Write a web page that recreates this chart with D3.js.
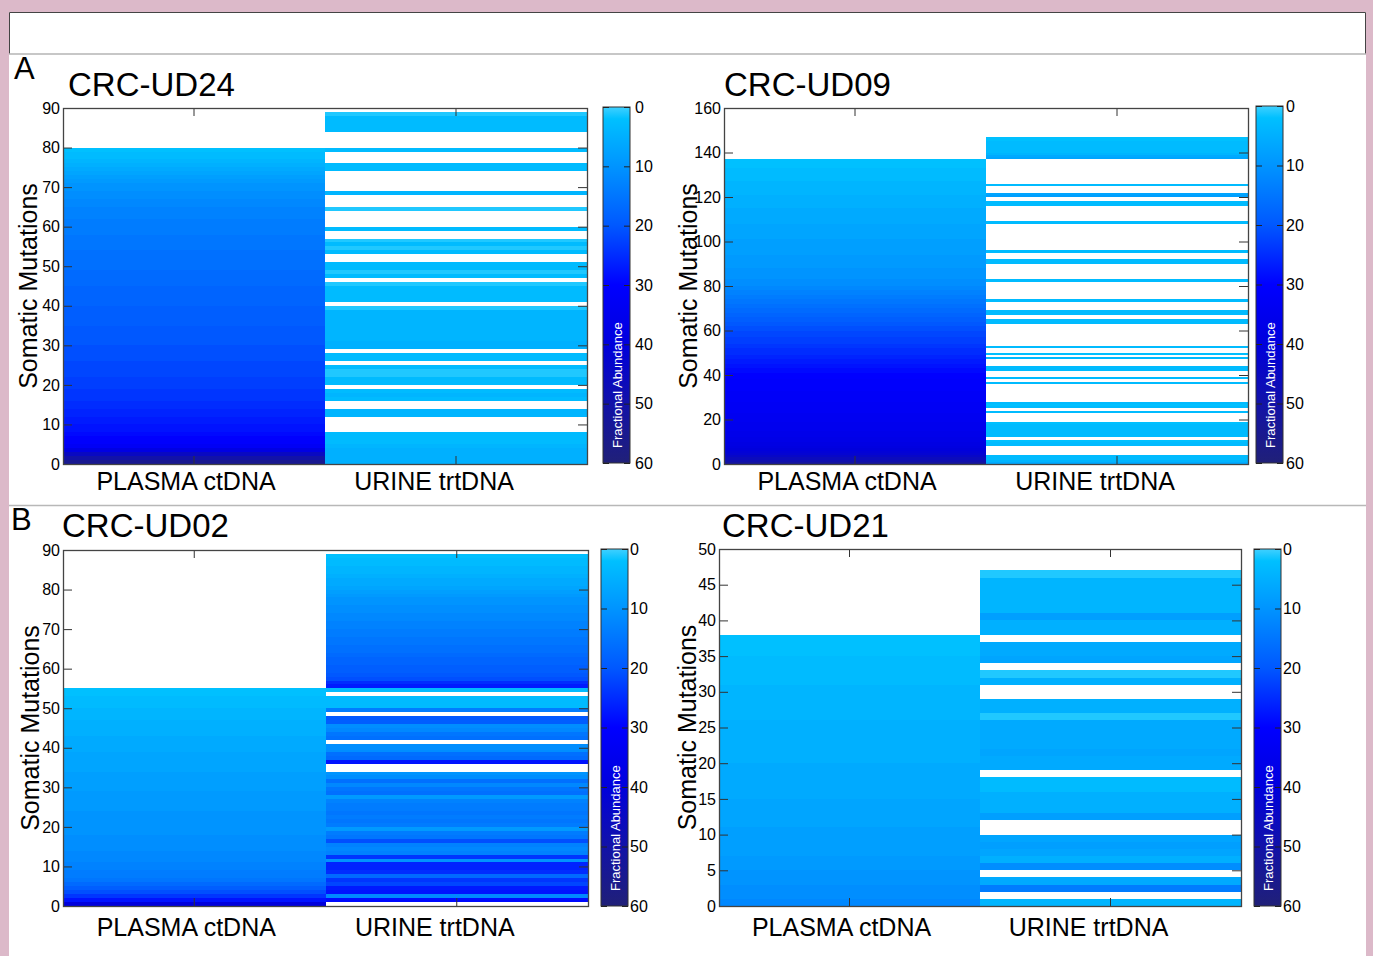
<!DOCTYPE html>
<html>
<head>
<meta charset="utf-8">
<script src="https://cdn.jsdelivr.net/npm/d3@7"></script>
<style>
  body { margin: 0; background: #fff; }
  svg { display: block; }
  text { font-family: "Liberation Sans", Arial, sans-serif; }
</style>
</head>
<body>
<svg id="chart" width="1373" height="956"></svg>
<script>
// columns and colour bar ticks shared by all four panels
const columns = ["PLASMA ctDNA", "URINE trtDNA"];
const colorTicks = [0, 10, 20, 30, 40, 50, 60];
const colorStops = [0, 2, 10, 20, 30, 40, 50, 60];
const colorRange = ["#40d0ff", "#00c0ff", "#0094ff", "#0058ff", "#0000ff", "#0000dc", "#1212a8", "#202078"];

// fractional abundance per mutation, index 0 = bottom row, null = not detected
const ud24Ticks = [0, 10, 20, 30, 40, 50, 60, 70, 80, 90];
const ud24Plasma = [
  55, 50, 45, 38, 33, 31, 30, 29, 28, 28,
  27, 27, 26, 26, 25, 25, 24, 24, 24, 23,
  23, 23, 22, 22, 22, 22, 21, 21, 21, 21,
  20, 20, 20, 20, 20, 19, 19, 19, 19, 19,
  18, 18, 18, 18, 18, 17, 17, 17, 17, 16,
  16, 16, 16, 16, 15, 15, 15, 15, 14, 14,
  14, 14, 13, 13, 13, 12, 12, 11, 11, 10,
  10, 9, 8, 7, 6, 5, 4, 3, 3, 2
];
const ud24Urine = [
  5, 5, 5, 5, 4, 3, 3, 3, null, null,
  null, null, 4, 4, null, null, 3, 4, 3, null,
  3, 3, 1, 1, 3, null, 3, 3, null, 5,
  5, 4, 4, 4, 4, 4, 4, 4, 4, 1,
  null, 3, 3, 3, 3, 1, null, 3, 1, 3,
  3, null, null, 3, 1, 3, 1, null, null, 3,
  null, null, null, null, 1, null, null, null, 4, null,
  null, null, null, null, 3, 3, null, null, null, 3,
  null, null, null, null, 3, 3, 3, 3, 1
];

const ud09Ticks = [0, 20, 40, 60, 80, 100, 120, 140, 160];
const ud09Plasma = [
  52, 49, 46, 44, 42, 41, 40, 39, 38, 38,
  37, 37, 36, 36, 36, 35, 35, 35, 35, 34,
  34, 34, 34, 33, 33, 33, 33, 33, 32, 32,
  32, 32, 32, 31, 31, 31, 31, 31, 30, 30,
  30, 29, 29, 28, 28, 27, 27, 26, 26, 25,
  25, 25, 24, 24, 23, 23, 23, 22, 22, 22,
  21, 21, 20, 20, 19, 19, 18, 18, 17, 17,
  16, 16, 15, 15, 14, 14, 13, 13, 12, 12,
  11, 11, 11, 10, 10, 10, 10, 10, 9, 9,
  9, 9, 9, 9, 8, 8, 8, 8, 8, 8,
  8, 7, 7, 7, 7, 7, 7, 7, 6, 6,
  6, 6, 6, 6, 6, 5, 5, 5, 5, 5,
  5, 4, 4, 4, 4, 4, 4, 3, 3, 3,
  3, 3, 3, 2, 2, 2, 2
];
const ud09Urine = [
  6, 4, 3, 3, null, null, null, null, 3, 3,
  2, null, 3, 3, 3, 3, 3, 3, 2, null,
  null, null, null, 3, null, 3, 2, 3, null, null,
  null, null, null, null, null, null, 3, null, 3, null,
  null, null, 3, 3, null, null, null, 3, null, 2,
  null, null, 3, null, null, null, null, null, null, null,
  null, null, null, 3, 3, null, null, 3, 3, null,
  null, null, null, 3, null, null, null, null, null, null,
  null, null, 3, null, null, null, null, null, null, null,
  3, 3, null, null, null, 3, null, null, null, null,
  null, null, null, null, null, null, null, null, 3, null,
  null, null, null, null, null, null, 3, 3, null, null,
  8, 7, null, null, null, 3, null, null, null, null,
  null, null, null, null, null, null, null, 7, 6, 4,
  3, 3, 3, 3, 3, 2, 2
];

const ud02Ticks = [0, 10, 20, 30, 40, 50, 60, 70, 80, 90];
const ud02Plasma = [
  40, 28, 24, 21, 19, 17, 15, 14, 14, 13,
  13, 12, 12, 12, 11, 11, 11, 11, 10, 10,
  10, 10, 10, 10, 9, 9, 9, 9, 9, 8,
  8, 8, 8, 8, 7, 7, 7, 7, 7, 6,
  6, 6, 6, 5, 5, 5, 5, 4, 4, 4,
  3, 3, 3, 2, 2
];
const ud02Urine = [
  null, 29, 12, 28, 27, 22, 24, 17, 25, 26,
  26, 10, 24, 13, 12, 13, 21, 15, 14, 9,
  14, 15, 14, 15, 14, 14, 13, 9, 16, 15,
  12, 16, 11, 10, null, null, 28, 17, 16, 11,
  11, null, 16, 15, 12, 11, 19, 20, null, 14,
  3, 3, 3, null, 3, 27, 25, 21, 20, 19,
  19, 18, 18, 17, 16, 16, 15, 15, 14, 14,
  13, 13, 12, 12, 11, 11, 10, 10, 9, 8,
  7, 6, 6, 5, 4, 4, 3, 3, 2
];

const ud21Ticks = [0, 5, 10, 15, 20, 25, 30, 35, 40, 45, 50];
const ud21Plasma = [
  12, 11, 11, 10, 10, 9, 9, 8, 8, 8,
  8, 7, 7, 7, 7, 6, 6, 6, 6, 6,
  5, 5, 5, 5, 5, 5, 4, 4, 4, 4,
  4, 3, 3, 3, 3, 2, 2, 2
];
const ud21Urine = [
  4, null, 14, 6, null, 11, 5, 7, 8, 7,
  null, null, 8, 5, 5, 5, 3, 3, null, 6,
  6, 7, 6, 6, 6, 6, 1, 5, 5, null,
  null, 5, 1, null, 7, 6, 6, null, 5, 5,
  8, 4, 4, 4, 4, 4, 1
];

const panels = [
  { title: "CRC-UD24", ticks: ud24Ticks, plasma: ud24Plasma, urine: ud24Urine },
  { title: "CRC-UD09", ticks: ud09Ticks, plasma: ud09Plasma, urine: ud09Urine },
  { title: "CRC-UD02", ticks: ud02Ticks, plasma: ud02Plasma, urine: ud02Urine },
  { title: "CRC-UD21", ticks: ud21Ticks, plasma: ud21Plasma, urine: ud21Urine }
];

// where each panel sits on the page
const layout = [
  { left: 63, right: 587, top: 108, bottom: 464, cbLeft: 603, cbTop: 107, cbBottom: 463, cbPad: 5, titleX: 68, titleY: 96, ylabX: 37, xlabPad: 8 },
  { left: 724, right: 1248, top: 108, bottom: 464, cbLeft: 1256, cbTop: 106, cbBottom: 463, cbPad: 3, titleX: 724, titleY: 96, ylabX: 697, xlabPad: 8 },
  { left: 63, right: 588, top: 550, bottom: 906, cbLeft: 601, cbTop: 549, cbBottom: 906, cbPad: 2, titleX: 62, titleY: 537, ylabX: 39, xlabPad: 12 },
  { left: 719, right: 1241, top: 549, bottom: 906, cbLeft: 1254, cbTop: 549, cbBottom: 906, cbPad: 2, titleX: 722, titleY: 537, ylabX: 696, xlabPad: 12 }
];
const cbWidth = 27;
const labelShift = [-8, -22];

const svg = d3.select("#chart");
const color = d3.scaleLinear().domain(colorStops).range(colorRange).clamp(true);

// colour bar gradient
const grad = svg.append("defs").append("linearGradient")
  .attr("id", "cbgrad").attr("x1", 0).attr("y1", 0).attr("x2", 0).attr("y2", 1);
grad.selectAll("stop").data(colorStops).join("stop")
  .attr("offset", d => d / 60)
  .attr("stop-color", d => color(d));

// page frame
svg.append("rect").attr("width", 1373).attr("height", 956).attr("fill", "#dcb9c9");
svg.append("rect").attr("x", 9).attr("y", 12).attr("width", 1357).attr("height", 950).attr("fill", "#fff");
svg.append("path").attr("d", "M9.5,54 V12.5 H1365.5 V54").attr("fill", "none").attr("stroke", "#444");
svg.append("line").attr("x1", 9).attr("x2", 1366).attr("y1", 54).attr("y2", 54).attr("stroke", "#b4b4b4").attr("stroke-width", 1.5);
svg.append("line").attr("x1", 9).attr("x2", 1366).attr("y1", 505.5).attr("y2", 505.5).attr("stroke", "#b8b8b8").attr("stroke-width", 1.5);

svg.append("text").attr("x", 14).attr("y", 79).attr("font-size", 31).text("A");
svg.append("text").attr("x", 11).attr("y", 530).attr("font-size", 31).text("B");

panels.forEach((p, k) => drawPanel(p, layout[k]));

function drawPanel(p, L) {
  const g = svg.append("g");
  const y = d3.scaleLinear().domain([0, d3.max(p.ticks)]).range([L.bottom, L.top]);
  const x = d3.scaleBand().domain(columns).range([L.left, L.right]);
  const series = [p.plasma, p.urine];

  // heatmap cells
  columns.forEach((col, c) => {
    const cells = series[c].map((v, i) => ({ v, i })).filter(d => d.v !== null);
    g.append("g").selectAll("rect").data(cells).join("rect")
      .attr("x", x(col))
      .attr("width", x.bandwidth())
      .attr("y", d => y(d.i + 1))
      .attr("height", d => y(d.i) - y(d.i + 1))
      .attr("fill", d => color(d.v))
      .attr("shape-rendering", "crispEdges");
  });

  // axes, ticks pointing inwards
  const yl = g.append("g").attr("transform", `translate(${L.left},0)`)
    .call(d3.axisLeft(y).tickValues(p.ticks).tickSize(-9).tickPadding(3));
  const yr = g.append("g").attr("transform", `translate(${L.right},0)`)
    .call(d3.axisRight(y).tickValues(p.ticks).tickSize(-9).tickFormat(""));
  const xt = g.append("g").attr("transform", `translate(0,${L.top})`)
    .call(d3.axisTop(x).tickSize(-8).tickFormat(""));
  const xb = g.append("g").attr("transform", `translate(0,${L.bottom})`)
    .call(d3.axisBottom(x).tickSize(-8).tickPadding(L.xlabPad));
  [yl, yr, xt, xb].forEach(a => {
    a.select(".domain").remove();
    a.selectAll("line").attr("stroke", "#333");
    a.attr("font-family", null);
  });
  yl.selectAll("text").attr("font-size", 16).attr("fill", "#000");
  xb.selectAll("text").attr("font-size", 25).attr("fill", "#000")
    .attr("dx", (d, i) => labelShift[i]);

  g.append("rect")
    .attr("x", L.left + 0.5).attr("y", L.top + 0.5)
    .attr("width", L.right - L.left).attr("height", L.bottom - L.top)
    .attr("fill", "none").attr("stroke", "#444").attr("stroke-width", 1.3);

  // titles
  g.append("text").attr("x", L.titleX).attr("y", L.titleY)
    .attr("font-size", 33).text(p.title);
  g.append("text")
    .attr("transform", `translate(${L.ylabX},${(L.top + L.bottom) / 2}) rotate(-90)`)
    .attr("text-anchor", "middle").attr("font-size", 25)
    .text("Somatic Mutations");

  // colour bar
  const cy = d3.scaleLinear().domain([0, 60]).range([L.cbTop, L.cbBottom]);
  const cbRight = L.cbLeft + cbWidth;
  g.append("rect")
    .attr("x", L.cbLeft).attr("y", L.cbTop)
    .attr("width", cbWidth).attr("height", L.cbBottom - L.cbTop)
    .attr("fill", "url(#cbgrad)").attr("stroke", "#333").attr("stroke-width", 1);
  const cr = g.append("g").attr("transform", `translate(${cbRight},0)`)
    .call(d3.axisRight(cy).tickValues(colorTicks).tickSize(-6).tickPadding(L.cbPad));
  const cl = g.append("g").attr("transform", `translate(${L.cbLeft},0)`)
    .call(d3.axisLeft(cy).tickValues(colorTicks).tickSize(-6).tickFormat(""));
  [cr, cl].forEach(a => {
    a.select(".domain").remove();
    a.selectAll("line").attr("stroke", "#222");
    a.attr("font-family", null);
  });
  cr.selectAll("text").attr("font-size", 16).attr("fill", "#000");
  g.append("text")
    .attr("transform", `translate(${L.cbLeft + cbWidth / 2 + 5},${L.cbBottom - 15}) rotate(-90)`)
    .attr("font-size", 13).attr("fill", "#fff")
    .text("Fractional Abundance");
}
</script>
</body>
</html>
